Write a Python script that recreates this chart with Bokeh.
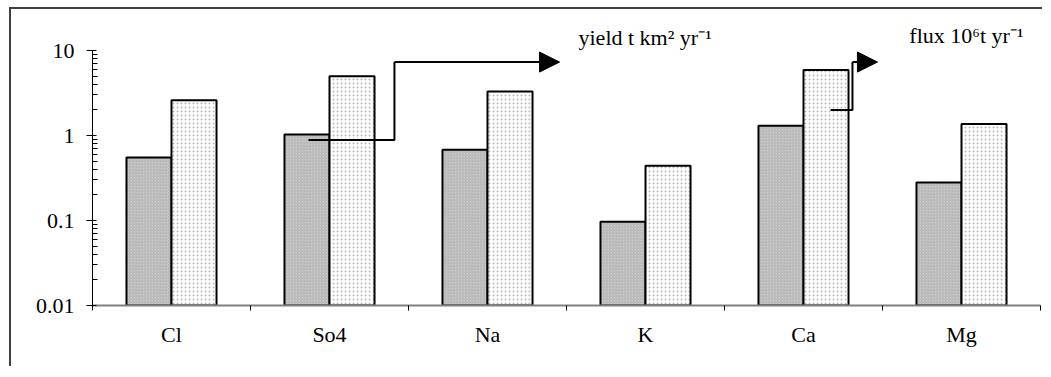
import numpy as np
from bokeh.plotting import figure
from bokeh.models import (Range1d, FixedTicker, CustomJSTickFormatter, Label,
                          Arrow, NormalHead, ColumnDataSource)
from bokeh.embed import file_html
from bokeh.resources import INLINE

# ---- data ----
categories = ["Cl", "So4", "Na", "K", "Ca", "Mg"]
yield_vals = [0.55, 1.03, 0.68, 0.097, 1.30, 0.28]   # grey bars, yield t km2 yr-1
flux_vals = [2.6, 5.0, 3.3, 0.44, 5.9, 1.37]         # dotted bars, flux 10^6 t yr-1
y_ticks = [0.01, 0.1, 1, 10]

# annotation callouts (data coordinates: category units / log value)
yield_arrow_x = [1.367, 1.911, 1.911]
yield_arrow_y = [0.885, 0.885, 7.32]
yield_arrow_tip = (2.956, 7.32)
flux_arrow_x = [4.671, 4.81, 4.81]
flux_arrow_y = [2.0, 2.0, 7.32]
flux_arrow_tip = (4.968, 7.32)
yield_label_pos = (3.076, 14.4)
flux_label_pos = (5.17, 15.2)

FONT = "Liberation Serif"
FS = "22px"

idx = np.arange(len(categories)) + 0.5
bw = 0.285
src = ColumnDataSource(dict(xg=idx - bw / 2, xw=idx + bw / 2,
                            yv=yield_vals, fv=flux_vals))

p = figure(width=1033, height=359, x_range=Range1d(0, 6),
           y_range=Range1d(0.01, 23.2), y_axis_type="log",
           output_backend="svg", toolbar_location=None,
           min_border_left=81, min_border_right=4,
           min_border_top=10, min_border_bottom=63)
p.styles = {"margin-left": "9px", "margin-top": "7px",
            "border-left": "2px solid #404040", "border-top": "2px solid #404040"}
p.outline_line_color = None
p.xgrid.visible = False
p.ygrid.visible = False

p.vbar(x="xg", top="yv", bottom=0.01, width=bw, source=src,
       fill_color="#cbcbcb", line_color="black", line_width=2,
       hatch_pattern="right_diagonal_line", hatch_color="#b2b2b2",
       hatch_scale=3, hatch_weight=1)
p.vbar(x="xw", top="fv", bottom=0.01, width=bw, source=src,
       fill_color="white", line_color="black", line_width=2,
       hatch_pattern="dot", hatch_color="#b8b8b8", hatch_scale=4)

# callouts
p.line(yield_arrow_x, yield_arrow_y, line_color="black", line_width=2)
p.line(flux_arrow_x, flux_arrow_y, line_color="black", line_width=2)
for xs, ys, tip in [(yield_arrow_x, yield_arrow_y, yield_arrow_tip),
                    (flux_arrow_x, flux_arrow_y, flux_arrow_tip)]:
    p.add_layout(Arrow(end=NormalHead(size=20, fill_color="black", line_color="black"),
                       line_color="black", line_width=2,
                       x_start=xs[-1], y_start=ys[-1], x_end=tip[0], y_end=tip[1]))

p.add_layout(Label(x=yield_label_pos[0], y=yield_label_pos[1],
                   text="yield t km² yr⁻¹", text_font=FONT, text_font_size=FS,
                   text_baseline="alphabetic", text_color="black"))
p.add_layout(Label(x=flux_label_pos[0], y=flux_label_pos[1],
                   text="flux 10⁶t yr⁻¹", text_font=FONT, text_font_size=FS,
                   text_baseline="alphabetic", text_color="black"))

# x axis
xa = p.xaxis[0]
xa.ticker = FixedTicker(ticks=list(idx), minor_ticks=list(range(len(categories) + 1)))
xa.formatter = CustomJSTickFormatter(args=dict(names=categories),
                                     code="return names[Math.floor(tick)];")
xa.major_tick_line_color = None
xa.major_tick_out = 0
xa.major_tick_in = 0
xa.minor_tick_out = 5
xa.minor_tick_in = 0
xa.minor_tick_line_color = "black"
xa.axis_line_color = "#808080"
xa.axis_line_width = 2
xa.major_label_standoff = 11
xa.major_label_text_font = FONT
xa.major_label_text_font_size = FS
xa.major_label_text_color = "black"

# y axis
ya = p.yaxis[0]
ya.bounds = (y_ticks[0], y_ticks[-1])
minor = [m * t for t in y_ticks[:-1] for m in range(2, 10)]
ya.ticker = FixedTicker(ticks=y_ticks, minor_ticks=minor)
ya.formatter = CustomJSTickFormatter(code="return tick.toString();")
ya.major_tick_in = 4
ya.major_tick_out = 6
ya.minor_tick_in = 5
ya.minor_tick_out = 0
ya.axis_line_color = "black"
ya.major_tick_line_color = "black"
ya.minor_tick_line_color = "black"
ya.major_label_standoff = 12
ya.major_label_text_font = FONT
ya.major_label_text_font_size = FS
ya.major_label_text_color = "black"

open("out.html", "w").write(file_html(p, INLINE))
